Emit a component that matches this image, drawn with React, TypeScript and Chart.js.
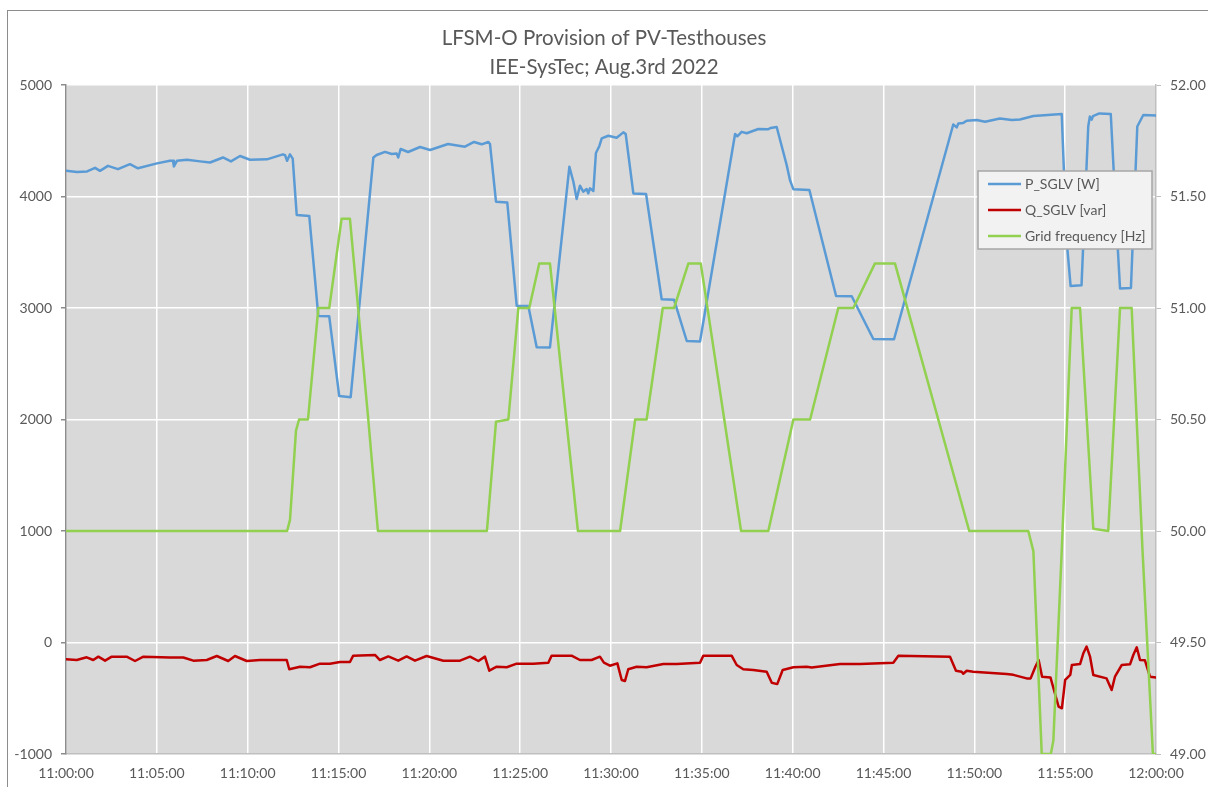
import React, { useEffect, useRef } from 'react';
import { Chart, registerables } from 'chart.js';

Chart.register(...registerables);

const TITLE_LINES = ['LFSM-O Provision of PV-Testhouses', 'IEE-SysTec; Aug.3rd 2022'];
const SERIES_LABELS = ['P_SGLV [W]', 'Q_SGLV [var]', 'Grid frequency [Hz]'];
const SERIES_COLORS = ['#5b9bd5', '#c00000', '#92d050'];
const X_TICK_LABELS = [
  '11:00:00', '11:05:00', '11:10:00', '11:15:00', '11:20:00', '11:25:00', '11:30:00',
  '11:35:00', '11:40:00', '11:45:00', '11:50:00', '11:55:00', '12:00:00',
];

// time in minutes after 11:00:00
const P_TIMES = [
  0.00, 0.61, 1.16, 1.60, 1.87, 2.31, 2.86, 3.52, 3.96, 5.01, 5.72, 5.89, 5.94, 6.11, 6.66, 7.38, 7.93,
  8.64, 9.08, 9.58, 10.13, 11.06, 11.94, 12.06, 12.17, 12.33, 12.48, 12.70, 13.39, 13.89, 14.49, 15.04,
  15.67, 16.92, 17.10, 17.56, 17.93, 18.20, 18.29, 18.42, 18.83, 19.49, 20.04, 21.03, 21.96, 22.46, 22.88,
  23.25, 23.34, 23.67, 24.29, 24.81, 25.45, 25.91, 26.64, 27.71, 27.93, 28.11, 28.29, 28.47, 28.66, 28.75,
  28.84, 29.03, 29.17, 29.36, 29.49, 29.85, 30.31, 30.68, 30.81, 31.23, 31.93, 32.79, 33.47, 34.17, 34.90,
  36.83, 36.95, 37.19, 37.47, 38.11, 38.66, 38.79, 39.12, 39.67, 39.85, 40.04, 40.92, 42.39, 43.25, 44.44,
  45.58, 48.84, 49.03, 49.12, 49.39, 49.58, 50.13, 50.59, 51.41, 52.06, 52.51, 53.25, 54.81, 55.08, 55.30,
  55.90, 56.27, 56.36, 56.46, 56.53, 56.88, 57.51, 57.84, 58.02, 58.62, 58.97, 59.30, 60.00,
];
const P_VALUES = [
  4230, 4220, 4225, 4257, 4230, 4275, 4245, 4290, 4253, 4297, 4320, 4320, 4270, 4320, 4330, 4315, 4305,
  4350, 4315, 4363, 4330, 4333, 4378, 4370, 4320, 4378, 4340, 3834, 3826, 2928, 2925, 2211,
  2200, 4350, 4372, 4400, 4381, 4385, 4350, 4426, 4399, 4444, 4417, 4471, 4447, 4489, 4468,
  4489, 4470, 3953, 3947, 3020, 3018, 2647, 2646, 4267, 4132, 3978, 4097, 4043, 4067, 4028,
  4073, 4049, 4390, 4453, 4521, 4545, 4527, 4575, 4560, 4028, 4022, 3078, 3075, 2704, 2700,
  4561, 4540, 4580, 4567, 4605, 4603, 4615, 4623, 4283, 4148, 4064, 4058, 3108, 3105, 2722,
  2720, 4646, 4620, 4655, 4660, 4679, 4686, 4670, 4700, 4686, 4690, 4722, 4740, 3610, 3197,
  3203, 4628, 4717, 4690, 4720, 4745, 4740, 3700, 3175, 3180, 4628, 4731, 4726,
];

const Q_TIMES = [
  0.00, 0.59, 1.14, 1.50, 1.78, 2.15, 2.52, 3.34, 3.80, 4.26, 5.72, 6.46, 7.01, 7.75, 8.30, 8.93, 9.30,
  9.95, 10.68, 12.15, 12.29, 12.88, 13.43, 13.98, 14.53, 15.08, 15.63, 15.81, 17.01, 17.28, 17.74, 18.29,
  18.75, 19.21, 19.85, 20.77, 21.69, 22.24, 22.70, 23.06, 23.30, 23.71, 24.26, 24.81, 25.72, 26.55, 26.73,
  27.83, 28.29, 28.93, 29.39, 29.61, 29.94, 30.35, 30.59, 30.77, 30.95, 31.41, 31.96, 32.88, 33.61, 34.90,
  35.08, 36.64, 36.92, 37.28, 37.83, 38.57, 38.85, 39.15, 39.45, 40.04, 40.77, 41.05, 42.61, 43.71, 45.54,
  45.82, 48.66, 48.99, 49.30, 49.39, 49.58, 49.94, 51.78, 52.15, 52.88, 53.10, 53.36, 53.54, 53.73, 54.19,
  54.46, 54.64, 54.82, 55.00, 55.28, 55.37, 55.82, 56.00, 56.18, 56.37, 56.55, 57.28, 57.56, 57.74, 58.11,
  58.57, 58.75, 58.94, 59.12, 59.39, 59.67, 60.00,
];
const Q_VALUES = [
  -151, -157, -133, -157, -127, -163, -127, -127, -166, -127, -135, -135, -163, -157, -121, -166, -121,
  -166, -157, -157, -240, -217, -222, -190, -190, -175, -175, -118, -112, -157, -125, -163,
  -125, -163, -121, -163, -163, -127, -166, -127, -253, -217, -222, -190, -190, -181, -118,
  -118, -157, -157, -127, -181, -208, -187, -336, -345, -240, -217, -222, -193, -193, -181,
  -118, -118, -202, -240, -247, -262, -361, -373, -247, -222, -217, -225, -193, -193, -181,
  -118, -127, -253, -262, -280, -253, -262, -283, -290, -322, -322, -217, -157, -307, -313,
  -471, -576, -590, -336, -291, -202, -193, -97, -37, -127, -291, -322, -426, -307, -202,
  -196, -112, -43, -157, -160, -307, -313,
];

const F_TIMES = [
  0.00, 12.17, 12.33, 12.66, 12.83, 13.32, 13.89, 14.49, 15.17, 15.63, 16.64, 17.17, 23.17, 23.67, 24.35,
  24.90, 25.50, 26.05, 26.64, 28.18, 30.50, 31.33, 31.96, 32.85, 33.47, 34.26, 34.94, 37.16, 38.66, 40.04,
  40.96, 42.51, 43.34, 44.53, 45.63, 49.72, 52.97, 53.25, 53.71, 54.21, 54.35, 54.81, 55.36, 55.82, 56.55,
  57.37, 58.02, 58.66, 59.26, 59.83, 60.00,
];
const F_VALUES = [
  50.00, 50.00, 50.05, 50.45, 50.50, 50.50, 51.00, 51.00, 51.40, 51.40, 50.50, 50.00, 50.00, 50.49, 50.50,
  51.00, 51.00, 51.20, 51.20, 50.00, 50.00, 50.50, 50.50, 51.00, 51.00, 51.20, 51.20, 50.00, 50.00, 50.50,
  50.50, 51.00, 51.00, 51.20, 51.20, 50.00, 50.00, 49.91, 49.00, 49.00, 49.06, 49.91, 51.00, 51.00, 50.01,
  50.00, 51.00, 51.00, 49.91, 49.00, 49.00,
];

const FONT = 'Lato, "Open Sans", sans-serif';
const TEXT_COLOR = '#595959';

const toPoints = (xs: number[], ys: number[]) => xs.map((x, i) => ({ x, y: ys[i] }));

const bgPlugin = {
  id: 'bgPlugin',
  beforeDraw(chart: any) {
    const { ctx, chartArea } = chart;
    ctx.save();
    ctx.fillStyle = '#ffffff';
    ctx.fillRect(0, 0, chart.width, chart.height);
    ctx.strokeStyle = '#8c8c8c';
    ctx.lineWidth = 1;
    ctx.strokeRect(7.5, 10.5, chart.width + 20, chart.height + 20);
    ctx.fillStyle = '#d9d9d9';
    ctx.fillRect(chartArea.left, chartArea.top, chartArea.right - chartArea.left, chartArea.bottom - chartArea.top);
    ctx.restore();
  },
};

const legendPlugin = {
  id: 'boxLegend',
  afterDraw(chart: any) {
    const { ctx } = chart;
    const bx = 978, by = 171, bw = 174, bh = 78;
    ctx.save();
    ctx.fillStyle = '#f2f2f2';
    ctx.fillRect(bx, by, bw, bh);
    ctx.strokeStyle = '#a6a6a6';
    ctx.lineWidth = 1.5;
    ctx.strokeRect(bx, by, bw, bh);
    ctx.font = `14px ${FONT}`;
    ctx.textBaseline = 'middle';
    ctx.textAlign = 'left';
    chart.data.datasets.forEach((ds: any, i: number) => {
      const y = by + 13 + i * 26;
      ctx.strokeStyle = ds.borderColor;
      ctx.lineWidth = 2.5;
      ctx.beginPath();
      ctx.moveTo(bx + 10, y);
      ctx.lineTo(bx + 43, y);
      ctx.stroke();
      ctx.fillStyle = TEXT_COLOR;
      ctx.fillText(ds.label, bx + 47, y);
    });
    ctx.restore();
  },
};

export default function App() {
  const ref = useRef<HTMLCanvasElement | null>(null);

  useEffect(() => {
    if (!ref.current) return;
    const chart = new Chart(ref.current, {
      type: 'line',
      data: {
        datasets: [
          {
            label: SERIES_LABELS[0],
            data: toPoints(P_TIMES, P_VALUES),
            borderColor: SERIES_COLORS[0],
            borderWidth: 2.5,
            pointRadius: 0,
            yAxisID: 'y',
            order: 2,
          },
          {
            label: SERIES_LABELS[1],
            data: toPoints(Q_TIMES, Q_VALUES),
            borderColor: SERIES_COLORS[1],
            borderWidth: 2.5,
            pointRadius: 0,
            yAxisID: 'y',
            order: 1,
          },
          {
            label: SERIES_LABELS[2],
            data: toPoints(F_TIMES, F_VALUES),
            borderColor: SERIES_COLORS[2],
            borderWidth: 2.5,
            pointRadius: 0,
            yAxisID: 'y1',
            order: 0,
          },
        ],
      },
      options: {
        animation: false,
        responsive: false,
        devicePixelRatio: 1,
        layout: { padding: 0 },
        elements: { line: { borderJoinStyle: 'round', borderCapStyle: 'round', tension: 0 } },
        plugins: {
          legend: { display: false },
          tooltip: { enabled: false },
          title: {
            display: true,
            text: TITLE_LINES,
            color: TEXT_COLOR,
            font: { family: FONT, size: 20.5, weight: 'normal', lineHeight: '29px' },
            padding: { top: 24, bottom: 3 },
          },
        },
        scales: {
          x: {
            type: 'linear',
            min: 0,
            max: 60,
            afterFit: (s: any) => { s.height = 33; },
            ticks: {
              stepSize: 5,
              padding: 11,
              color: TEXT_COLOR,
              font: { family: FONT, size: 14 },
              maxRotation: 0,
              callback: (v: any) => X_TICK_LABELS[Math.round(Number(v) / 5)],
            },
            grid: { color: '#ffffff', lineWidth: 1.5, drawTicks: false },
            border: { color: '#bfbfbf', width: 1.5 },
          },
          y: {
            type: 'linear',
            position: 'left',
            min: -1000,
            max: 5000,
            afterFit: (s: any) => { s.width = 66; },
            ticks: {
              stepSize: 1000,
              padding: 9,
              color: TEXT_COLOR,
              font: { family: FONT, size: 14 },
              callback: (v: any) => String(v),
            },
            grid: { color: '#ffffff', lineWidth: 1.5, drawTicks: true, tickLength: 5, tickColor: '#8c8c8c' },
            border: { color: '#8c8c8c', width: 1.5 },
          },
          y1: {
            type: 'linear',
            position: 'right',
            min: 49,
            max: 52,
            afterFit: (s: any) => { s.width = 52; },
            ticks: {
              stepSize: 0.5,
              padding: 9,
              color: TEXT_COLOR,
              font: { family: FONT, size: 14 },
              callback: (v: any) => Number(v).toFixed(2),
            },
            grid: { drawOnChartArea: false, drawTicks: true, tickLength: 5, tickColor: '#bfbfbf' },
            border: { color: '#bfbfbf', width: 1.5 },
          },
        },
      },
      plugins: [bgPlugin, legendPlugin],
    } as any);
    return () => chart.destroy();
  }, []);

  return (
    <div style={{ position: 'absolute', left: 0, top: 0, width: 1208, height: 787 }}>
      <canvas ref={ref} width={1208} height={787} style={{ width: 1208, height: 787 }} />
    </div>
  );
}
